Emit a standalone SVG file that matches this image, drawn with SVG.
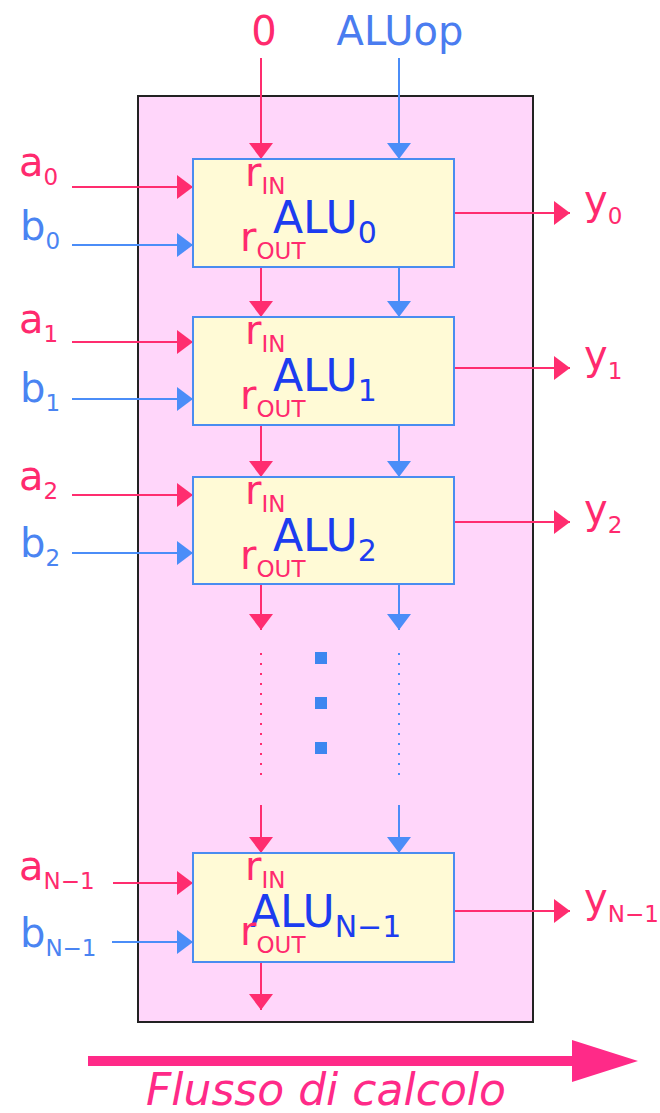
<svg xmlns="http://www.w3.org/2000/svg" width="660" height="1113" viewBox="0 0 660 1113">
<style>
text{font-family:"DejaVu Sans","Liberation Sans",sans-serif;}
.r{fill:#ff2a6e;}
.b{fill:#4a84f2;}
.lab{font-size:40px;}
.sub{font-size:23px;}
.alu{font-size:44px;fill:#1c3cf0;}
.alusub{font-size:30px;}
.box{fill:#fffad6;stroke:#4a8cf0;stroke-width:2;}
.lr{stroke:#ff2d6f;stroke-width:2;fill:none;}
.lb{stroke:#4b8df8;stroke-width:2;fill:none;}
.ar{marker-end:url(#mr);}
.ab{marker-end:url(#mb);}
.dot{stroke-dasharray:2 8;}
</style>
<defs>
<marker id="mr" markerUnits="userSpaceOnUse" markerWidth="16" markerHeight="24" refX="16" refY="12" orient="auto"><path d="M0,0 L16,12 L0,24 Z" fill="#ff2d6f"/></marker>
<marker id="mb" markerUnits="userSpaceOnUse" markerWidth="16" markerHeight="24" refX="16" refY="12" orient="auto"><path d="M0,0 L16,12 L0,24 Z" fill="#4b8df8"/></marker>
</defs>

<g id="container">
<rect x="138" y="96" width="395" height="926" fill="#ffd6fa" stroke="#222" stroke-width="2"/>
</g>

<g id="top-labels">
<text x="264" y="45" class="lab r" text-anchor="middle">0</text>
<text x="400" y="45" class="lab" fill="#4a7cf0" text-anchor="middle">ALUop</text>
</g>

<g id="connectors">
<line x1="261" y1="58" x2="261" y2="159" class="lr ar"/>
<line x1="399" y1="58" x2="399" y2="159" class="lb ab"/>
<line x1="261" y1="267" x2="261" y2="317" class="lr ar"/>
<line x1="399" y1="267" x2="399" y2="317" class="lb ab"/>
<line x1="261" y1="425" x2="261" y2="477" class="lr ar"/>
<line x1="399" y1="425" x2="399" y2="477" class="lb ab"/>
<line x1="261" y1="584" x2="261" y2="630" class="lr ar"/>
<line x1="399" y1="584" x2="399" y2="630" class="lb ab"/>
<line x1="261" y1="653" x2="261" y2="776" class="lr dot"/>
<line x1="399" y1="653" x2="399" y2="776" class="lb dot"/>
<line x1="261" y1="805" x2="261" y2="853" class="lr ar"/>
<line x1="399" y1="805" x2="399" y2="853" class="lb ab"/>
<line x1="261" y1="962" x2="261" y2="1010" class="lr ar"/>

<line x1="72" y1="187" x2="193" y2="187" class="lr ar"/>
<line x1="72" y1="245" x2="193" y2="245" class="lb ab"/>
<line x1="72" y1="342" x2="193" y2="342" class="lr ar"/>
<line x1="72" y1="399" x2="193" y2="399" class="lb ab"/>
<line x1="72" y1="495" x2="193" y2="495" class="lr ar"/>
<line x1="72" y1="553" x2="193" y2="553" class="lb ab"/>
<line x1="113" y1="883" x2="193" y2="883" class="lr ar"/>
<line x1="112" y1="942" x2="193" y2="942" class="lb ab"/>

<line x1="453" y1="213" x2="570" y2="213" class="lr ar"/>
<line x1="453" y1="368" x2="570" y2="368" class="lr ar"/>
<line x1="453" y1="522" x2="570" y2="522" class="lr ar"/>
<line x1="453" y1="911" x2="570" y2="911" class="lr ar"/>
</g>

<g id="ellipsis" fill="#3d86f0">
<rect x="315" y="652" width="12" height="12"/>
<rect x="315" y="697" width="12" height="12"/>
<rect x="315" y="742" width="12" height="12"/>
</g>

<g id="alu0">
<rect x="193" y="159" width="261" height="108" class="box"/>
<text x="245" y="186" class="lab r">r<tspan dy="8" class="sub">IN</tspan></text>
<text x="273" y="233" class="alu">ALU<tspan dy="10" class="alusub">0</tspan></text>
<text x="240" y="251" class="lab r">r<tspan dy="8" class="sub">OUT</tspan></text>
</g>
<g id="alu1">
<rect x="193" y="317" width="261" height="108" class="box"/>
<text x="245" y="344" class="lab r">r<tspan dy="8" class="sub">IN</tspan></text>
<text x="273" y="391" class="alu">ALU<tspan dy="10" class="alusub">1</tspan></text>
<text x="240" y="409" class="lab r">r<tspan dy="8" class="sub">OUT</tspan></text>
</g>
<g id="alu2">
<rect x="193" y="477" width="261" height="107" class="box"/>
<text x="245" y="504" class="lab r">r<tspan dy="8" class="sub">IN</tspan></text>
<text x="273" y="551" class="alu">ALU<tspan dy="10" class="alusub">2</tspan></text>
<text x="240" y="569" class="lab r">r<tspan dy="8" class="sub">OUT</tspan></text>
</g>
<g id="aluN1">
<rect x="193" y="853" width="261" height="109" class="box"/>
<text x="245" y="880" class="lab r">r<tspan dy="8" class="sub">IN</tspan></text>
<text x="250" y="927" class="alu">ALU<tspan dy="10" class="alusub">N−1</tspan></text>
<text x="240" y="945" class="lab r">r<tspan dy="8" class="sub">OUT</tspan></text>
</g>

<g id="inputs">
<text x="19" y="176" class="lab r">a<tspan dy="9" class="sub">0</tspan></text>
<text x="20" y="240" class="lab b">b<tspan dy="9" class="sub">0</tspan></text>
<text x="19" y="333" class="lab r">a<tspan dy="9" class="sub">1</tspan></text>
<text x="20" y="402" class="lab b">b<tspan dy="9" class="sub">1</tspan></text>
<text x="19" y="490" class="lab r">a<tspan dy="9" class="sub">2</tspan></text>
<text x="20" y="557" class="lab b">b<tspan dy="9" class="sub">2</tspan></text>
<text x="19" y="880" class="lab r">a<tspan dy="9" class="sub">N−1</tspan></text>
<text x="20" y="947" class="lab b">b<tspan dy="9" class="sub">N−1</tspan></text>
</g>

<g id="outputs">
<text x="584" y="214" class="lab r">y<tspan dy="10" class="sub">0</tspan></text>
<text x="584" y="369" class="lab r">y<tspan dy="10" class="sub">1</tspan></text>
<text x="584" y="523" class="lab r">y<tspan dy="10" class="sub">2</tspan></text>
<text x="584" y="912" class="lab r">y<tspan dy="10" class="sub">N−1</tspan></text>
</g>

<g id="flow">
<path d="M88,1056 L572,1056 L572,1040 L638,1061 L572,1082 L572,1066 L88,1066 Z" fill="#ff2a88"/>
<text x="146" y="1105" font-size="44" font-style="italic" fill="#ff2a88">Flusso di calcolo</text>
</g>
</svg>
